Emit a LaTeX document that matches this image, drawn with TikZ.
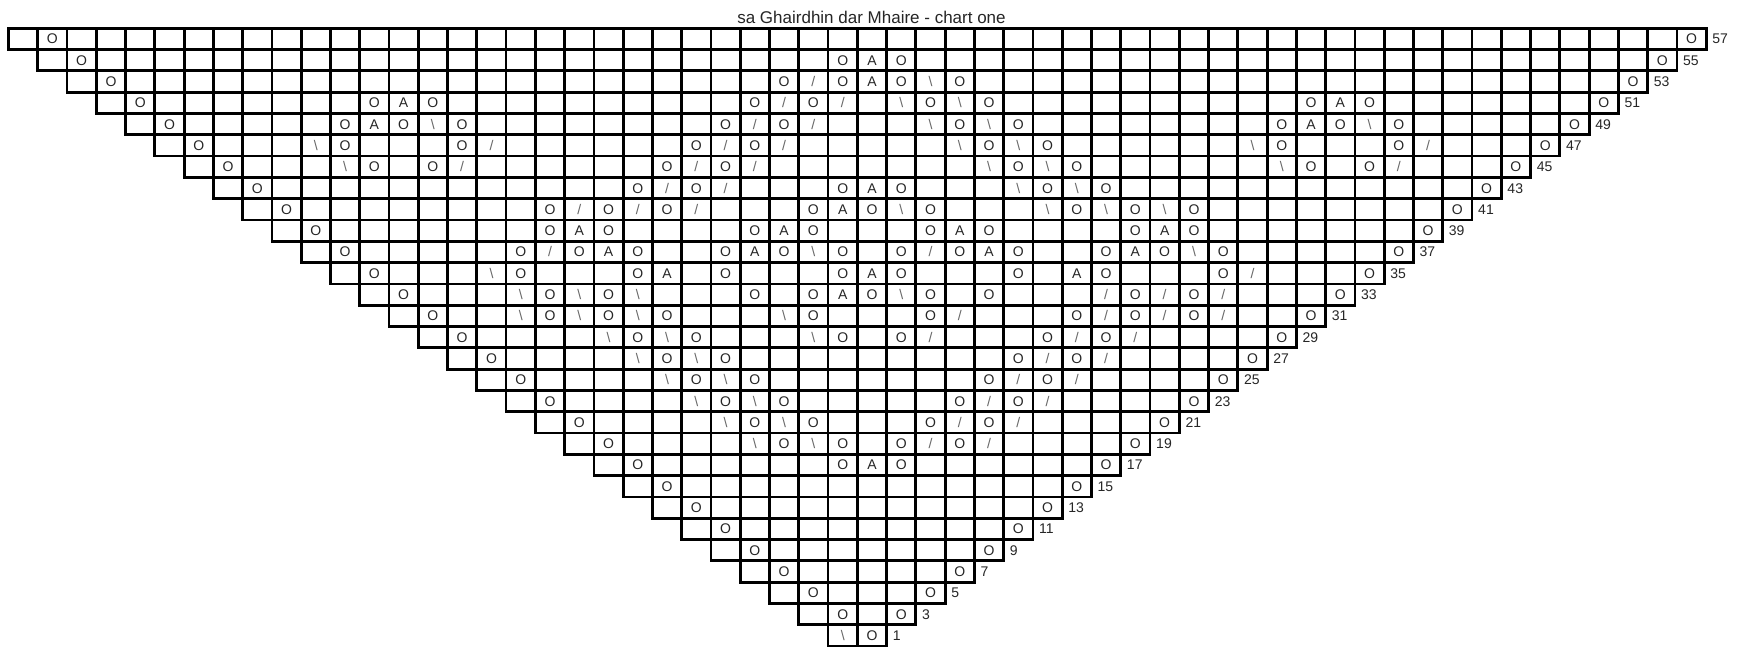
\documentclass[tikz,border=0pt]{standalone}
\usepackage{fontspec}
\setmainfont{Liberation Sans}
\def\gx{8.5}
\def\gw{29.27}
\def\gy{28.3}
\def\gh{21.3}
\expandafter\def\csname kn-O\endcsname{O}
\expandafter\def\csname kn-A\endcsname{A}
\expandafter\def\csname kn-s\endcsname{\textcolor{black!60}{/}}
\expandafter\def\csname kn-b\endcsname{\textcolor{black!60}{\textbackslash}}
\newcommand\knitrow[2]{%
  \foreach \kc/\ky in {#2} {
    \node[sym] (s-#1-\kc) at (\gx+\kc*\gw+\gw/2, \gy+#1*\gh+\gh/2+5) {\csname kn-\ky\endcsname};
  }%
}
\begin{document}
\begin{tikzpicture}[x=1pt,y=-1pt,
  grid/.style={line width=2.8pt, black, line cap=rect},
  sym/.style={font=\fontsize{14}{14}\selectfont, text=black!85, inner sep=0pt, anchor=base},
  lbl/.style={font=\fontsize{14}{14}\selectfont, text=black!85, inner sep=0pt, anchor=base west}]
\useasboundingbox (0,0) rectangle (1744,647);
\fill[white] (0,0) rectangle (1744,647);
\node[font=\fontsize{17}{17}\selectfont, text=black!85, anchor=base, inner sep=0pt] (title) at (871.5,23.3) {sa Ghairdhin dar Mhaire - chart one};
\foreach \r in {0,...,28} {
  \pgfmathtruncatemacro\ce{58-\r}
  \pgfmathtruncatemacro\num{57-2*\r}
  \draw[grid] (\gx+\r*\gw, \gy+\r*\gh) rectangle (\gx+\ce*\gw, \gy+\r*\gh+\gh);
  \foreach \c in {\r,...,\ce} \draw[grid] (\gx+\c*\gw, \gy+\r*\gh) -- (\gx+\c*\gw, \gy+\r*\gh+\gh);
  \node[lbl] (l-\r) at (\gx+\ce*\gw+6, \gy+\r*\gh+\gh/2+5) {\num};
}
\knitrow{0}{1/O,57/O}
\knitrow{1}{2/O,28/O,29/A,30/O,56/O}
\knitrow{2}{3/O,26/O,27/s,28/O,29/A,30/O,31/b,32/O,55/O}
\knitrow{3}{4/O,12/O,13/A,14/O,25/O,26/s,27/O,28/s,30/b,31/O,32/b,33/O,44/O,45/A,46/O,54/O}
\knitrow{4}{5/O,11/O,12/A,13/O,14/b,15/O,24/O,25/s,26/O,27/s,31/b,32/O,33/b,34/O,43/O,44/A,45/O,46/b,47/O,53/O}
\knitrow{5}{6/O,10/b,11/O,15/O,16/s,23/O,24/s,25/O,26/s,32/b,33/O,34/b,35/O,42/b,43/O,47/O,48/s,52/O}
\knitrow{6}{7/O,11/b,12/O,14/O,15/s,22/O,23/s,24/O,25/s,33/b,34/O,35/b,36/O,43/b,44/O,46/O,47/s,51/O}
\knitrow{7}{8/O,21/O,22/s,23/O,24/s,28/O,29/A,30/O,34/b,35/O,36/b,37/O,50/O}
\knitrow{8}{9/O,18/O,19/s,20/O,21/s,22/O,23/s,27/O,28/A,29/O,30/b,31/O,35/b,36/O,37/b,38/O,39/b,40/O,49/O}
\knitrow{9}{10/O,18/O,19/A,20/O,25/O,26/A,27/O,31/O,32/A,33/O,38/O,39/A,40/O,48/O}
\knitrow{10}{11/O,17/O,18/s,19/O,20/A,21/O,24/O,25/A,26/O,27/b,28/O,30/O,31/s,32/O,33/A,34/O,37/O,38/A,39/O,40/b,41/O,47/O}
\knitrow{11}{12/O,16/b,17/O,21/O,22/A,24/O,28/O,29/A,30/O,34/O,36/A,37/O,41/O,42/s,46/O}
\knitrow{12}{13/O,17/b,18/O,19/b,20/O,21/b,25/O,27/O,28/A,29/O,30/b,31/O,33/O,37/s,38/O,39/s,40/O,41/s,45/O}
\knitrow{13}{14/O,17/b,18/O,19/b,20/O,21/b,22/O,26/b,27/O,31/O,32/s,36/O,37/s,38/O,39/s,40/O,41/s,44/O}
\knitrow{14}{15/O,20/b,21/O,22/b,23/O,27/b,28/O,30/O,31/s,35/O,36/s,37/O,38/s,43/O}
\knitrow{15}{16/O,21/b,22/O,23/b,24/O,34/O,35/s,36/O,37/s,42/O}
\knitrow{16}{17/O,22/b,23/O,24/b,25/O,33/O,34/s,35/O,36/s,41/O}
\knitrow{17}{18/O,23/b,24/O,25/b,26/O,32/O,33/s,34/O,35/s,40/O}
\knitrow{18}{19/O,24/b,25/O,26/b,27/O,31/O,32/s,33/O,34/s,39/O}
\knitrow{19}{20/O,25/b,26/O,27/b,28/O,30/O,31/s,32/O,33/s,38/O}
\knitrow{20}{21/O,28/O,29/A,30/O,37/O}
\knitrow{21}{22/O,36/O}
\knitrow{22}{23/O,35/O}
\knitrow{23}{24/O,34/O}
\knitrow{24}{25/O,33/O}
\knitrow{25}{26/O,32/O}
\knitrow{26}{27/O,31/O}
\knitrow{27}{28/O,30/O}
\knitrow{28}{28/b,29/O}
\end{tikzpicture}
\end{document}
